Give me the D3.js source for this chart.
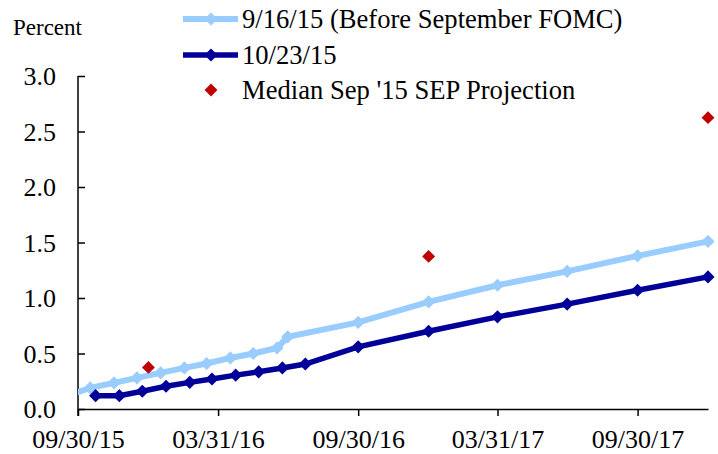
<!DOCTYPE html>
<html><head><meta charset="utf-8">
<script src="https://cdn.jsdelivr.net/npm/d3@7"></script>
<style>
body{margin:0;background:#fff;}
text{font-family:"Liberation Serif","Times New Roman",serif;fill:#000;}
</style></head>
<body><svg id="c" width="718" height="454"></svg>
<script>
const beforeDates = ["2015-09-16","2015-10-16","2015-11-16","2015-12-16","2016-01-16","2016-02-16","2016-03-16","2016-04-16","2016-05-16","2016-06-16","2016-06-30","2016-09-30","2016-12-31","2017-03-31","2017-06-30","2017-09-30","2017-12-31"];
const beforeValues = [0.12,0.19,0.235,0.28,0.325,0.37,0.41,0.46,0.50,0.55,0.65,0.78,0.965,1.115,1.24,1.38,1.51];
const afterDates = ["2015-10-23","2015-11-23","2015-12-23","2016-01-23","2016-02-23","2016-03-23","2016-04-23","2016-05-23","2016-06-23","2016-07-23","2016-09-30","2016-12-31","2017-03-31","2017-06-30","2017-09-30","2017-12-31"];
const afterValues = [0.12,0.12,0.16,0.205,0.24,0.27,0.305,0.335,0.37,0.405,0.56,0.70,0.83,0.945,1.07,1.19];
const sepDates = ["2015-12-31","2016-12-31","2017-12-31"];
const sepValues = [0.375,1.375,2.625];
const xTickDates = ["2015-09-30","2016-03-31","2016-09-30","2017-03-31","2017-09-30"];
const xTickLabels = ["09/30/15","03/31/16","09/30/16","03/31/17","09/30/17"];
const yTicks = [0,0.5,1.0,1.5,2.0,2.5,3.0];
const seriesNames = ["9/16/15 (Before September FOMC)","10/23/15","Median Sep '15 SEP Projection"];

const parse = d3.utcParse("%Y-%m-%d");
const svg = d3.select("#c");
const L=78, R=708, T=76, B=409;
const x = d3.scaleUtc().domain([parse("2015-09-30"), parse("2017-12-31")]).range([L,R]);
const y = d3.scaleLinear().domain([0,3]).range([B,T]);

const colLight="#99CCFF", colDark="#000099", colRed="#C00000";
const FONT = "Liberation Serif, Times New Roman, serif";

svg.append("defs").append("clipPath").attr("id","clip")
  .append("rect").attr("x",L).attr("y",0).attr("width",718-L).attr("height",454);

// axes
const yAxis = d3.axisLeft(y).tickValues(yTicks).tickSizeInner(-7).tickSizeOuter(0).tickFormat(d3.format(".1f"));
const gy = svg.append("g").attr("transform",`translate(${L},0)`).call(yAxis).attr("font-family",FONT);
gy.select(".domain").remove();
gy.selectAll(".tick line").attr("stroke","#000").attr("stroke-width",1.5);
gy.selectAll(".tick text").attr("x",-22).attr("dy","0.34em").style("font-size","26px");
svg.append("line").attr("x1",L).attr("x2",L).attr("y1",T).attr("y2",B+7).attr("stroke","#000").attr("stroke-width",1.5);

const xAxis = d3.axisBottom(x).tickValues(xTickDates.map(parse)).tickSizeInner(7).tickSizeOuter(0)
  .tickFormat((d,i)=>xTickLabels[i]);
const gx = svg.append("g").attr("transform",`translate(0,${B})`).call(xAxis).attr("font-family",FONT);
gx.select(".domain").attr("stroke","#000").attr("stroke-width",1.5);
gx.selectAll(".tick line").attr("stroke","#000").attr("stroke-width",1.5);
gx.selectAll(".tick text").attr("y",20.5).attr("dy","0.71em").style("font-size","26px");

svg.append("text").attr("x",13).attr("y",35).style("font-size","23px").text("Percent");

const line = d3.line().x(d=>x(d.date)).y(d=>y(d.v));
const diamond = d3.symbol().type(d3.symbolDiamond2);

function series(dates, vals){ return dates.map((d,i)=>({date:parse(d), v:vals[i]})); }
const sBefore = series(beforeDates, beforeValues);
const sAfter = series(afterDates, afterValues);
const sSep = series(sepDates, sepValues);

const plot = svg.append("g").attr("clip-path","url(#clip)");
plot.append("path").datum(sBefore).attr("d",line).attr("fill","none").attr("stroke",colLight).attr("stroke-width",6);
plot.selectAll(".mb").data(sBefore).join("path").attr("transform",d=>`translate(${x(d.date)},${y(d.v)})`)
  .attr("d",diamond.size(110)).attr("fill",colLight);
plot.append("path").datum(sAfter).attr("d",line).attr("fill","none").attr("stroke",colDark).attr("stroke-width",5.5);
plot.selectAll(".ma").data(sAfter).join("path").attr("transform",d=>`translate(${x(d.date)},${y(d.v)})`)
  .attr("d",diamond.size(110)).attr("fill",colDark);
svg.selectAll(".ms").data(sSep).join("path").attr("transform",d=>`translate(${x(d.date)},${y(d.v)})`)
  .attr("d",diamond.size(105)).attr("fill",colRed);

// legend
const lg = svg.append("g");
const rows=[{y:19,c:colLight,w:6,s:110,line:true},{y:55,c:colDark,w:5.5,s:110,line:true},{y:90,c:colRed,s:105,line:false}];
rows.forEach((r,i)=>{
  if(r.line) lg.append("line").attr("x1",183).attr("x2",238).attr("y1",r.y).attr("y2",r.y).attr("stroke",r.c).attr("stroke-width",r.w);
  lg.append("path").attr("transform",`translate(211,${r.y})`).attr("d",diamond.size(r.s)).attr("fill",r.c);
  lg.append("text").attr("x",242).attr("y",r.y-0.5).attr("dy","0.34em").style("font-size","26.6px").text(seriesNames[i]);
});
</script></body></html>
